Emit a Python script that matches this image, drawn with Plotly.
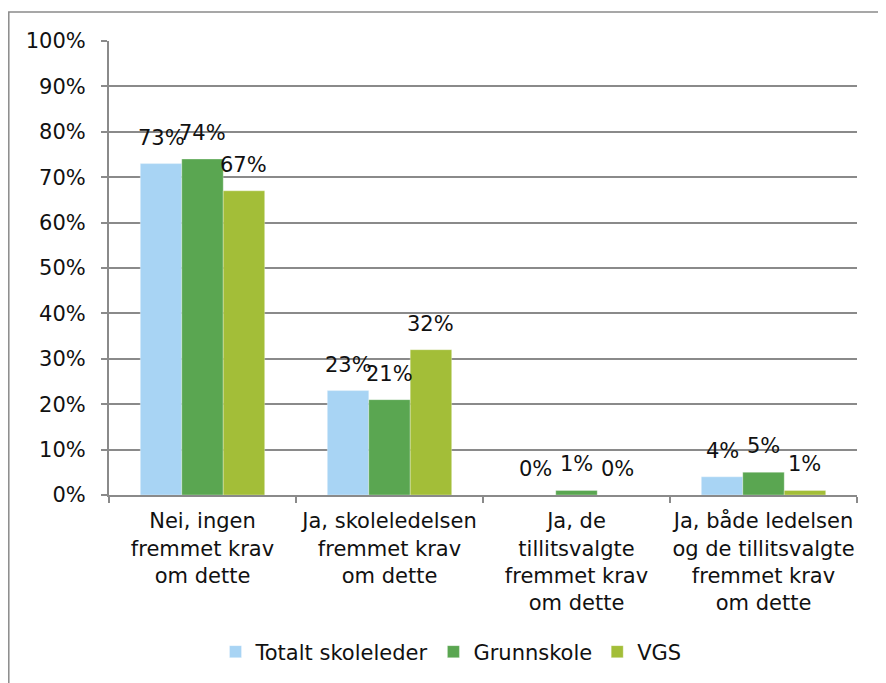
import plotly.graph_objects as go

categories = [
    "Nei, ingen<br>fremmet krav<br>om dette",
    "Ja, skoleledelsen<br>fremmet krav<br>om dette",
    "Ja, de<br>tillitsvalgte<br>fremmet krav<br>om dette",
    "Ja, både ledelsen<br>og de tillitsvalgte<br>fremmet krav<br>om dette",
]
series_names = ["Totalt skoleleder", "Grunnskole", "VGS"]
totalt = [73, 23, 0, 4]
grunnskole = [74, 21, 1, 5]
vgs = [67, 32, 0, 1]
colors = ["#A8D4F4", "#5AA651", "#A3BE38"]

FONT = "DejaVu Sans"
FS = 21
BODY = 8  # default page margin of the html body
W, H = 886 - BODY, 683 - BODY
L, R, T, B = 109 - BODY, 857 - BODY, 41 - BODY, 495 - BODY
BARGAP = 0.335

fig = go.Figure()
all_series = [totalt, grunnskole, vgs]
for name, vals, col in zip(series_names, all_series, colors):
    fig.add_trace(go.Bar(
        name=name, x=categories, y=vals,
        marker=dict(color=col, line=dict(color="rgba(255,255,255,0.6)", width=0.5)),
        hoverinfo="x+y+name",
    ))

# data labels above each bar (offset within group derived from bargap)
bw = (1 - BARGAP) / len(all_series)
for si, vals in enumerate(all_series):
    for ci, v in enumerate(vals):
        fig.add_annotation(
            x=ci + (si - (len(all_series) - 1) / 2) * bw, y=v,
            xref="x", yref="y", text=f"{v}%", showarrow=False,
            yanchor="bottom", yshift=12,
            font=dict(family=FONT, size=FS, color="#111"),
        )

pw, ph = R - L, B - T
fig.add_shape(type="rect", xref="paper", yref="paper",
              x0=(0.8 - L) / pw, x1=(877 - L) / pw,
              y0=(B - 720) / ph, y1=1 + (T - 4) / ph,
              line=dict(color="#8a8a8a", width=1.5), layer="below")

fig.update_layout(
    width=W, height=H,
    margin=dict(l=L, r=W - R, t=T, b=H - B, pad=0, autoexpand=False),
    barmode="group", bargap=BARGAP, bargroupgap=0,
    plot_bgcolor="white", paper_bgcolor="white",
    font=dict(family=FONT, size=FS, color="#111"),
    showlegend=True,
    legend=dict(orientation="h", x=(443 - L) / pw, xanchor="center",
                y=(B - 644) / ph, yanchor="middle",
                font=dict(family=FONT, size=FS, color="#111")),
    xaxis=dict(showline=True, linecolor="#8a8a8a", linewidth=2,
               ticks="outside", tickson="boundaries", ticklen=6,
               tickcolor="#8a8a8a", tickwidth=2, tickangle=0,
               automargin=False,
               tickfont=dict(family=FONT, size=FS, color="#111"),
               ticklabelstandoff=6),
    yaxis=dict(range=[0, 100], dtick=10, ticksuffix="%",
               showline=True, linecolor="#8a8a8a", linewidth=2,
               showgrid=True, gridcolor="#8a8a8a", gridwidth=1.5,
               ticks="outside", ticklen=6, tickcolor="#8a8a8a", tickwidth=2,
               automargin=False,
               tickfont=dict(family=FONT, size=FS, color="#111"),
               ticklabelstandoff=11, zeroline=False),
)

fig.write_html("out.html")
